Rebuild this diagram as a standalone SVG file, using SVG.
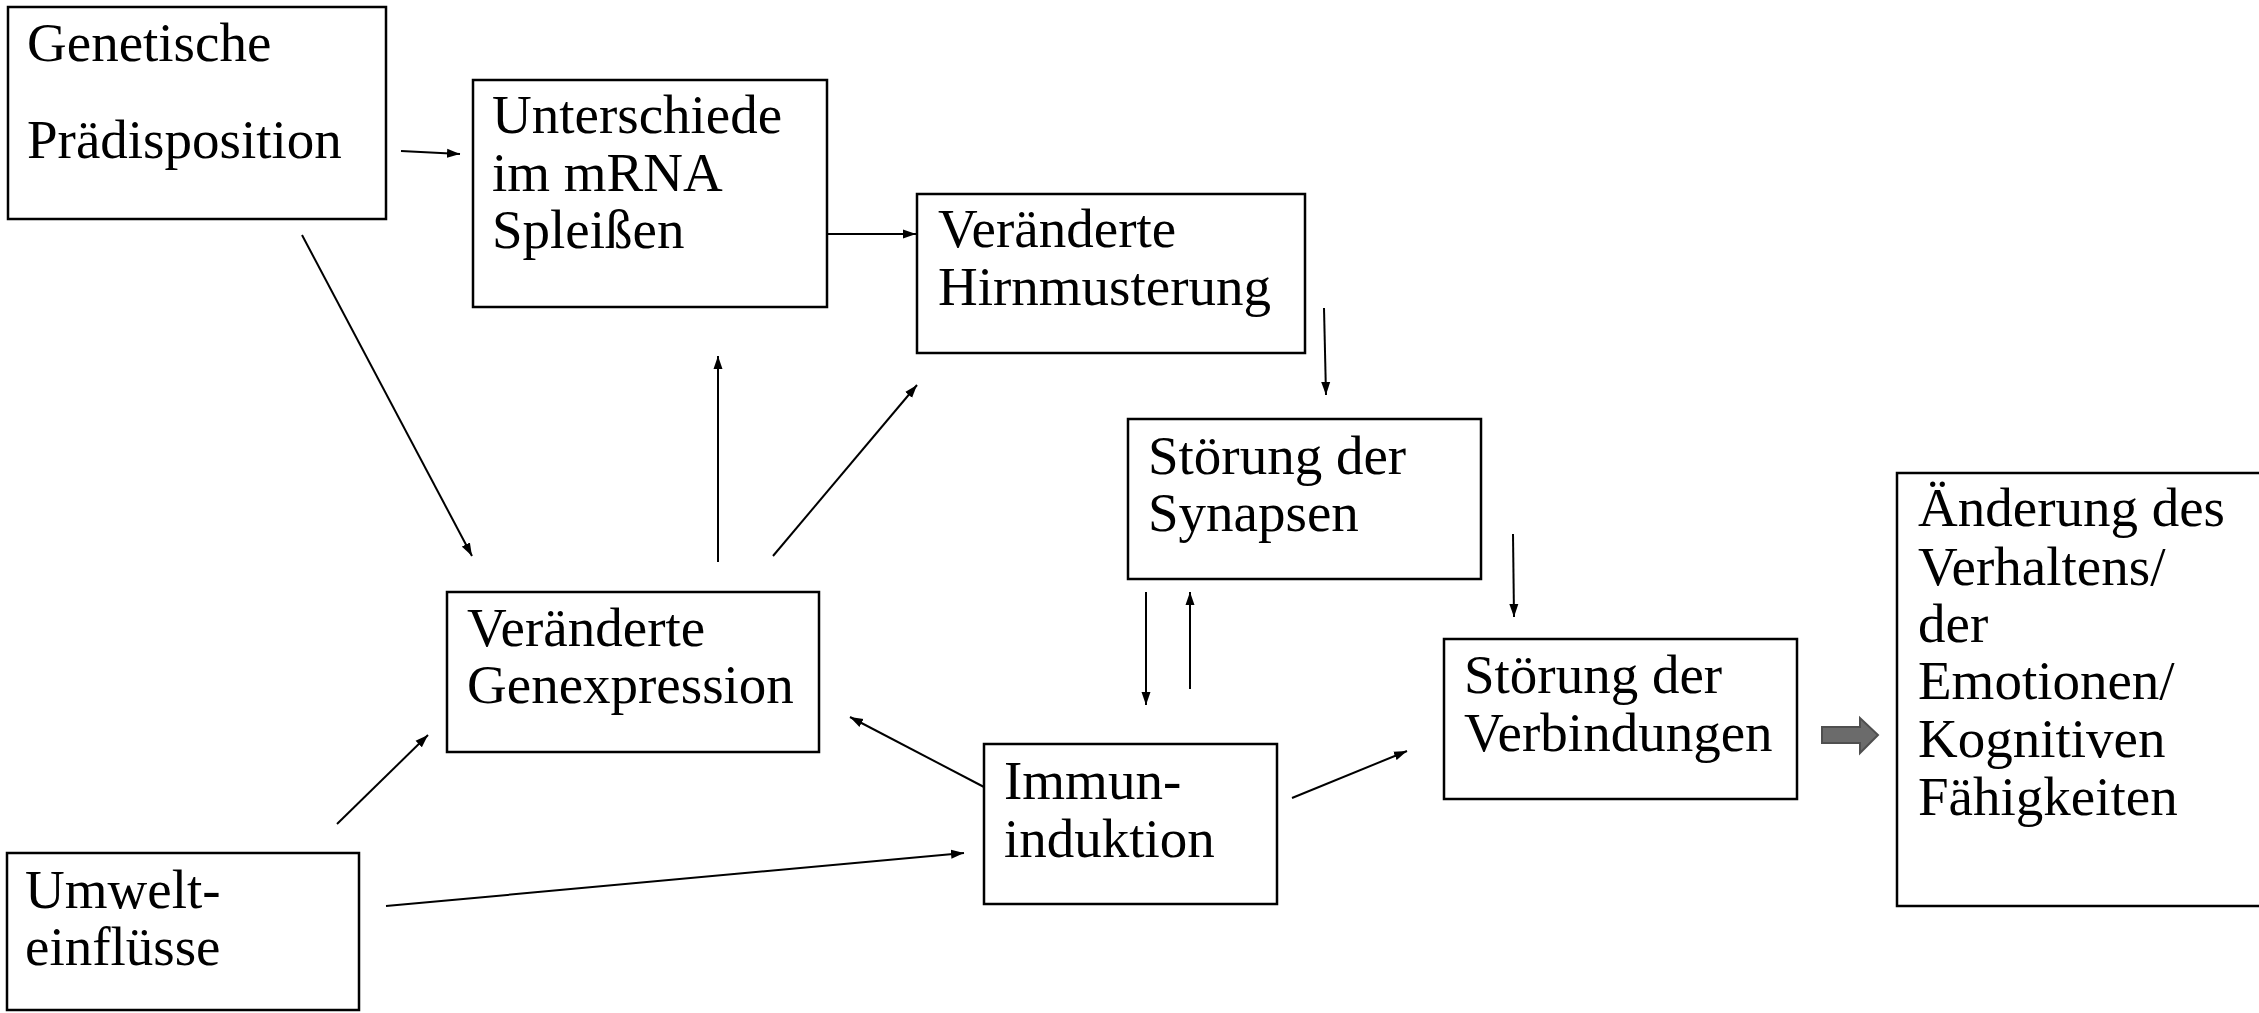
<svg xmlns="http://www.w3.org/2000/svg" width="2259" height="1013" viewBox="0 0 2259 1013">
<style>
.box{fill:#fff;stroke:#000;stroke-width:2.5}
.t{font-family:"Liberation Serif","DejaVu Serif",serif;font-size:55px;fill:#000}
.c{stroke:#000;stroke-width:2;fill:none;marker-end:url(#ah)}
</style>
<defs>
<marker id="ah" markerUnits="userSpaceOnUse" markerWidth="14" markerHeight="10" refX="13" refY="5" orient="auto">
<path d="M0,0.5 L13,5 L0,9.5 Z" fill="#000"/>
</marker>
</defs>
<rect width="2259" height="1013" fill="#fff"/>
<g id="connectors">
<line class="c" x1="401" y1="151" x2="460" y2="154"/>
<line class="c" x1="302" y1="235" x2="472" y2="556"/>
<line class="c" x1="827" y1="234" x2="916" y2="234"/>
<line class="c" x1="718" y1="562" x2="718" y2="356"/>
<line class="c" x1="773" y1="556" x2="917" y2="385"/>
<line class="c" x1="1324" y1="308" x2="1326" y2="395"/>
<line class="c" x1="1513" y1="534" x2="1514" y2="617"/>
<line class="c" x1="1146" y1="592" x2="1146" y2="705"/>
<line class="c" x1="1190" y1="689" x2="1190" y2="592"/>
<line class="c" x1="1292" y1="798" x2="1407" y2="751"/>
<line class="c" x1="984" y1="787" x2="850" y2="717"/>
<line class="c" x1="337" y1="824" x2="428" y2="735"/>
<line class="c" x1="386" y1="906" x2="964" y2="853"/>
<path d="M1822,727 L1860,727 L1860,718 L1878,735 L1860,753 L1860,743 L1822,743 Z" fill="#6b6b6b" stroke="#4f4f4f" stroke-width="2"/>
</g>
<g id="genetische">
<rect class="box" x="8" y="7" width="378" height="212"/>
<text class="t" x="27" y="61">Genetische</text>
<text class="t" x="27" y="158">Prädisposition</text>
</g>
<g id="unterschiede">
<rect class="box" x="473" y="80" width="354" height="227"/>
<text class="t" x="492" y="133">Unterschiede</text>
<text class="t" x="492" y="191">im mRNA</text>
<text class="t" x="492" y="248">Spleißen</text>
</g>
<g id="hirnmusterung">
<rect class="box" x="917" y="194" width="388" height="159"/>
<text class="t" x="938" y="247">Veränderte</text>
<text class="t" x="938" y="305">Hirnmusterung</text>
</g>
<g id="synapsen">
<rect class="box" x="1128" y="419" width="353" height="160"/>
<text class="t" x="1148" y="474">Störung der</text>
<text class="t" x="1148" y="531">Synapsen</text>
</g>
<g id="verbindungen">
<rect class="box" x="1444" y="639" width="353" height="160"/>
<text class="t" x="1464" y="693">Störung der</text>
<text class="t" x="1464" y="751">Verbindungen</text>
</g>
<g id="aenderung">
<rect class="box" x="1897" y="473" width="400" height="433"/>
<text class="t" x="1918" y="526">Änderung des</text>
<text class="t" x="1918" y="585">Verhaltens/</text>
<text class="t" x="1918" y="642">der</text>
<text class="t" x="1918" y="699">Emotionen/</text>
<text class="t" x="1918" y="757">Kognitiven</text>
<text class="t" x="1918" y="815">Fähigkeiten</text>
</g>
<g id="immuninduktion">
<rect class="box" x="984" y="744" width="293" height="160"/>
<text class="t" x="1004" y="799">Immun-</text>
<text class="t" x="1004" y="857">induktion</text>
</g>
<g id="genexpression">
<rect class="box" x="447" y="592" width="372" height="160"/>
<text class="t" x="467" y="646">Veränderte</text>
<text class="t" x="467" y="703">Genexpression</text>
</g>
<g id="umwelt">
<rect class="box" x="7" y="853" width="352" height="157"/>
<text class="t" x="25" y="908">Umwelt-</text>
<text class="t" x="25" y="965">einflüsse</text>
</g>
</svg>
